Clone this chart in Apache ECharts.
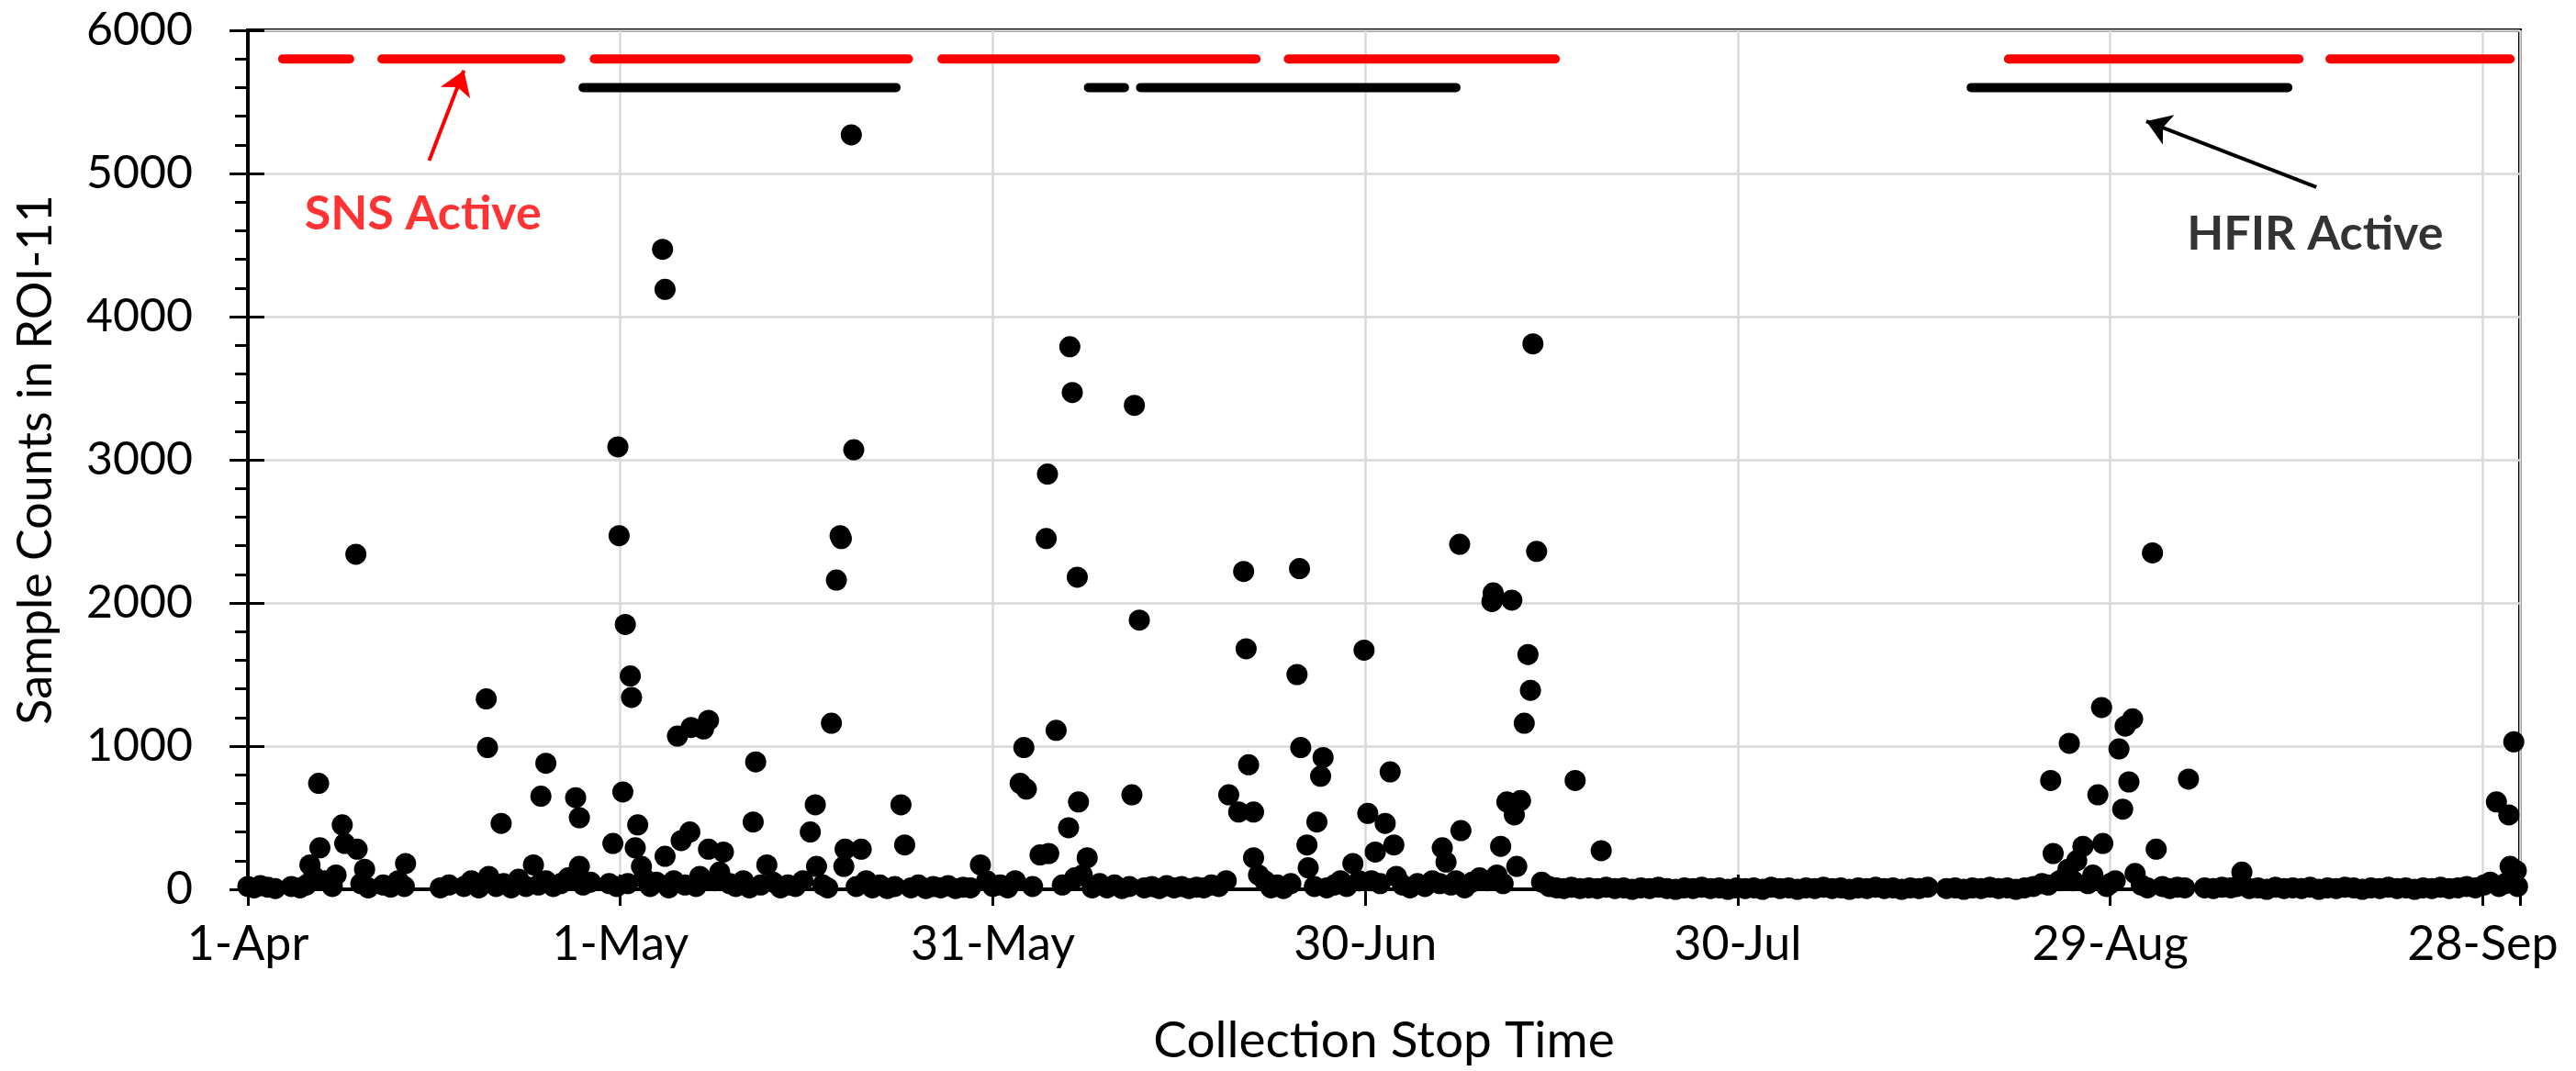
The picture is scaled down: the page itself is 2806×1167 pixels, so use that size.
<!DOCTYPE html>
<html>
<head>
<meta charset="utf-8">
<script src="https://cdn.jsdelivr.net/npm/echarts@6/dist/echarts.min.js"></script>
<style>
  html, body { margin: 0; padding: 0; background: #fff; }
  #chart { width: 2806px; height: 1167px; }
</style>
</head>
<body>
<div id="chart"></div>
<script>
// ---------------- DATA ----------------
// x values are days since 1-Apr (0 = 1-Apr), y = sample counts in ROI-11
const xTickDays = [0, 30, 60, 90, 120, 150, 180];
const xTickLabels = ['1-Apr', '1-May', '31-May', '30-Jun', '30-Jul', '29-Aug', '28-Sep'];
const yTicks = [0, 1000, 2000, 3000, 4000, 5000, 6000];

const aprSamples = [
  [0.0, 20], [0.5, 10], [1.0, 25], [1.6, 15], [2.2, 5],
  [3.5, 20], [4.2, 10], [4.7, 30], [5.0, 170], [5.3, 90], [5.7, 740], [5.8, 290],
  [6.2, 60], [6.8, 20], [7.1, 100], [7.6, 450], [7.8, 320], [8.7, 2340], [8.8, 280],
  [9.1, 40], [9.4, 140], [9.7, 10], [10.9, 30], [11.5, 15], [12.1, 60], [12.6, 20], [12.7, 180],
  [15.5, 10], [16.2, 30], [17.4, 20], [18.0, 60], [18.6, 10], [19.2, 1330], [19.3, 990], [19.4, 90],
  [20.0, 20], [20.4, 460], [20.6, 40], [21.2, 10], [21.8, 70], [22.4, 20], [23.0, 170], [23.4, 30],
  [23.6, 650], [24.0, 880], [24.0, 60], [24.6, 20], [25.2, 40], [25.8, 80], [26.4, 640], [26.4, 100],
  [26.7, 500], [26.7, 160], [27.0, 30], [27.6, 50], [29.1, 40], [29.4, 320], [29.7, 20],
  [29.8, 3090], [29.9, 2470]
];

const maySamples = [
  [30.2, 680], [30.4, 1850], [30.6, 40], [30.8, 1490], [30.9, 1340], [31.2, 290], [31.4, 450],
  [31.7, 160], [31.9, 80], [32.4, 20], [32.9, 50], [33.4, 4470], [33.6, 4190], [33.6, 230],
  [33.9, 10], [34.3, 60], [34.6, 1070], [34.9, 340], [35.2, 30], [35.6, 400], [35.7, 1130],
  [36.1, 20], [36.4, 90], [36.7, 1120], [37.1, 1180], [37.1, 280], [37.6, 60], [38.0, 120],
  [38.3, 260], [38.8, 40], [39.3, 20], [39.9, 60], [40.4, 10], [40.7, 470], [40.9, 890],
  [41.3, 30], [41.8, 170], [42.3, 50], [42.9, 10], [43.5, 30], [44.1, 20], [44.7, 60],
  [45.3, 400], [45.7, 590], [45.8, 160], [46.3, 30], [46.7, 10], [47.0, 1160], [47.4, 2160],
  [47.7, 2470], [47.8, 2450], [48.0, 160], [48.1, 280], [48.6, 5270], [48.8, 3070], [49.0, 20],
  [49.4, 280], [49.8, 60], [50.3, 10], [50.9, 30], [51.5, 5], [52.1, 20], [52.6, 590], [52.9, 310],
  [53.4, 10], [54.0, 30], [54.6, 5], [55.2, 20], [55.8, 10], [56.4, 25], [57.0, 5], [57.6, 15],
  [58.2, 10], [59.0, 170], [59.5, 60], [60.0, 20]
];

const junSamples = [
  [60.6, 30], [61.2, 10], [61.8, 60], [62.2, 740], [62.5, 990], [62.7, 700], [63.2, 20],
  [63.8, 240], [64.3, 2450], [64.4, 2900], [64.5, 250], [65.1, 1110], [65.6, 30], [66.1, 430],
  [66.2, 3790], [66.4, 3470], [66.6, 80], [66.8, 2180], [66.9, 610], [67.2, 100], [67.6, 220],
  [68.0, 10], [68.6, 40], [69.2, 10], [69.8, 30], [70.4, 5], [71.0, 20], [71.2, 660], [71.4, 3380],
  [71.8, 1880], [72.2, 10], [72.8, 20], [73.4, 5], [74.0, 25], [74.6, 10], [75.2, 20], [75.8, 5],
  [76.4, 15], [77.0, 10], [77.6, 30], [78.2, 20], [78.8, 60], [79.0, 660], [79.8, 540],
  [80.2, 2220], [80.4, 1680], [80.6, 870], [81.0, 540], [81.0, 220], [81.4, 100], [81.9, 60],
  [82.4, 10], [82.9, 30], [83.4, 5], [84.0, 40], [84.5, 1500], [84.7, 2240], [84.8, 990],
  [85.3, 310], [85.4, 150], [85.9, 20], [86.1, 470], [86.4, 790], [86.6, 920], [86.9, 10],
  [87.5, 30], [88.0, 60], [88.5, 20], [89.0, 180], [89.5, 60], [89.9, 1670]
];

const julSamples = [
  [90.2, 530], [90.5, 60], [90.8, 260], [91.2, 40], [91.6, 460], [92.0, 820], [92.3, 310],
  [92.5, 90], [93.0, 30], [93.6, 10], [94.2, 40], [94.8, 20], [95.4, 60], [96.0, 40],
  [96.2, 290], [96.5, 190], [96.9, 30], [97.3, 60], [97.6, 2410], [97.7, 410], [98.0, 10],
  [98.6, 50], [99.2, 80], [99.8, 60], [100.2, 2010], [100.3, 2070], [100.6, 100], [100.9, 300],
  [101.1, 40], [101.4, 610], [101.8, 2020], [102.0, 520], [102.2, 160], [102.5, 620],
  [102.8, 1160], [103.1, 1640], [103.3, 1390], [103.5, 3810], [103.8, 2360], [104.2, 50],
  [104.8, 20], [105.4, 10], [106.0, 5], [106.6, 15], [106.9, 760], [107.3, 5], [108.0, 10],
  [108.7, 5], [109.0, 270], [109.4, 15], [110.1, 5], [110.8, 10], [111.5, 0], [112.2, 10],
  [112.9, 5], [113.6, 15], [114.3, 5], [115.0, 0], [115.7, 10], [116.4, 5], [117.1, 15],
  [117.8, 5], [118.5, 10], [119.2, 0], [119.9, 10]
];

const augSamples = [
  [120.6, 5], [121.3, 10], [122.0, 0], [122.7, 15], [123.4, 5], [124.1, 10], [124.8, 0],
  [125.5, 10], [126.2, 5], [126.9, 15], [127.6, 5], [128.3, 10], [129.0, 0], [129.7, 10],
  [130.4, 5], [131.1, 15], [131.8, 5], [132.5, 10], [133.2, 0], [133.9, 10], [134.6, 5],
  [135.3, 15], [136.8, 5], [137.5, 10], [138.2, 0], [138.9, 10], [139.6, 5], [140.3, 15],
  [141.0, 5], [141.7, 10], [142.4, 0], [143.1, 10], [143.8, 20], [144.5, 40], [145.0, 30],
  [145.2, 760], [145.4, 250], [145.9, 60], [146.3, 80], [146.6, 140], [146.7, 1020],
  [147.0, 60], [147.3, 200], [147.8, 300], [148.2, 40], [148.6, 100], [149.0, 660],
  [149.3, 1270], [149.4, 320], [149.7, 20], [150.0, 40], [150.4, 60], [150.7, 980]
];

const sepSamples = [
  [151.0, 560], [151.2, 1140], [151.5, 750], [151.8, 1190], [152.0, 110], [152.5, 30],
  [153.0, 10], [153.4, 2350], [153.7, 280], [154.2, 20], [154.8, 5], [155.4, 15], [156.0, 10],
  [156.3, 770], [157.6, 10], [158.3, 5], [159.0, 15], [159.7, 10], [160.2, 20], [160.6, 120],
  [161.2, 5], [161.9, 10], [162.6, 0], [163.3, 15], [164.0, 5], [164.7, 10], [165.4, 5],
  [166.1, 15], [166.8, 0], [167.5, 10], [168.2, 5], [168.9, 15], [169.6, 10], [170.3, 0],
  [171.0, 10], [171.7, 5], [172.4, 15], [173.1, 5], [173.8, 10], [174.5, 0], [175.2, 10],
  [175.9, 5], [176.6, 15], [177.3, 5], [178.0, 10], [178.7, 20], [179.4, 10], [180.1, 30],
  [180.6, 50], [181.1, 610], [181.3, 20], [181.8, 40], [182.1, 520], [182.2, 160],
  [182.4, 60], [182.5, 1030], [182.7, 130], [182.8, 20]
];

// Facility activity periods [startDay, endDay]
const snsActive = [[2.8, 8.2], [10.8, 25.2], [27.9, 53.2], [55.9, 81.2], [83.8, 105.3], [141.8, 165.2], [167.7, 182.2]];
const hfirActive = [[27.0, 52.2], [67.7, 70.6], [71.9, 97.3], [138.8, 164.3]];
const snsLevel = 5800;
const hfirLevel = 5600;

// ---------------- CHART ----------------
const FONT = 'Lato';
const allSamples = [].concat(aprSamples, maySamples, junSamples, julSamples, augSamples, sepSamples);

function segmentsToLine(segs, level) {
  const out = [];
  segs.forEach(s => { out.push([s[0], level], [s[1], level], [s[1], '-']); });
  return out;
}

const xCommon = { type: 'value', min: 0, max: 183, interval: 30 };
const yCommon = { type: 'value', min: 0, max: 6000, interval: 1000 };

const chart = echarts.init(document.getElementById('chart'), null, { renderer: 'canvas' });
chart.setOption({
  animation: false,
  backgroundColor: '#ffffff',
  grid: { left: 270, right: 61, top: 33, bottom: 195, show: true, borderColor: '#000', borderWidth: 4, backgroundColor: 'transparent' },
  xAxis: [
    Object.assign({}, xCommon, {
      position: 'bottom',
      axisLine: { show: true, onZero: false, lineStyle: { color: '#000', width: 4 } },
      axisTick: { show: true, inside: false, length: 18, lineStyle: { color: '#000', width: 3 } },
      axisLabel: {
        fontFamily: FONT, fontSize: 52, color: '#000', margin: 34,
        formatter: v => { const i = xTickDays.indexOf(v); return i >= 0 ? xTickLabels[i] : ''; }
      },
      splitLine: { show: true, lineStyle: { color: '#d9d9d9', width: 2.5 } },
      name: 'Collection Stop Time', nameLocation: 'middle', nameGap: 138,
      nameTextStyle: { fontFamily: FONT, fontSize: 55, color: '#000' }
    }),
    Object.assign({}, xCommon, {
      position: 'bottom',
      axisLine: { show: false },
      axisTick: { show: true, inside: true, length: 16, lineStyle: { color: '#000', width: 3 } },
      axisLabel: { show: false },
      splitLine: { show: false }
    })
  ],
  yAxis: [
    Object.assign({}, yCommon, {
      position: 'left',
      axisLine: { show: true, onZero: false, lineStyle: { color: '#000', width: 4 } },
      axisTick: { show: true, inside: false, length: 20, lineStyle: { color: '#000', width: 3 } },
      minorTick: { show: true, splitNumber: 5, length: 14, lineStyle: { color: '#000', width: 3 } },
      axisLabel: {
        fontFamily: FONT, fontSize: 50, color: '#000', margin: 60,
        formatter: v => (yTicks.indexOf(v) >= 0 ? String(v) : '')
      },
      splitLine: { show: true, lineStyle: { color: '#d9d9d9', width: 2.5 } },
      name: 'Sample Counts in ROI-11', nameLocation: 'middle', nameGap: 205, nameRotate: 90,
      nameTextStyle: { fontFamily: FONT, fontSize: 52, color: '#000' }
    }),
    Object.assign({}, yCommon, {
      position: 'left',
      axisLine: { show: false },
      axisTick: { show: true, inside: true, length: 18, lineStyle: { color: '#000', width: 3 } },
      axisLabel: { show: false },
      splitLine: { show: false }
    })
  ],
  series: [
    {
      name: 'Samples', type: 'scatter', xAxisIndex: 0, yAxisIndex: 0,
      data: allSamples, symbol: 'circle', symbolSize: 23,
      itemStyle: { color: '#000', opacity: 1 }, z: 3
    },
    {
      name: 'SNS Active', type: 'line', data: segmentsToLine(snsActive, snsLevel),
      showSymbol: false, symbol: 'none', connectNulls: false,
      lineStyle: { color: '#ff0000', width: 10, cap: 'round' }, z: 4
    },
    {
      name: 'HFIR Active', type: 'line', data: segmentsToLine(hfirActive, hfirLevel),
      showSymbol: false, symbol: 'none', connectNulls: false,
      lineStyle: { color: '#000', width: 10, cap: 'round' }, z: 4
    },
    {
      name: 'SNS arrow', type: 'lines', coordinateSystem: 'cartesian2d',
      symbol: ['none', 'arrow'], symbolSize: [16, 26],
      lineStyle: { color: '#ff0000', width: 4, opacity: 1 },
      data: [{ coords: [[14.6, 5090], [17.4, 5720]] }], z: 5
    },
    {
      name: 'HFIR arrow', type: 'lines', coordinateSystem: 'cartesian2d',
      symbol: ['none', 'arrow'], symbolSize: [16, 26],
      lineStyle: { color: '#000', width: 4, opacity: 1 },
      data: [{ coords: [[166.6, 4905], [152.9, 5365]] }], z: 5
    },
    {
      name: 'labels', type: 'scatter', symbolSize: 0, z: 6, silent: true,
      data: [
        { value: [14.1, 4716], name: 'SNS Active', label: { color: '#ff0000' } },
        { value: [166.5, 4575], name: 'HFIR Active', label: { color: '#000' } }
      ],
      label: {
        show: true, position: 'inside', formatter: p => p.name,
        fontFamily: FONT, fontWeight: 'bold', fontSize: 52
      }
    }
  ]
});
</script>
</body>
</html>
